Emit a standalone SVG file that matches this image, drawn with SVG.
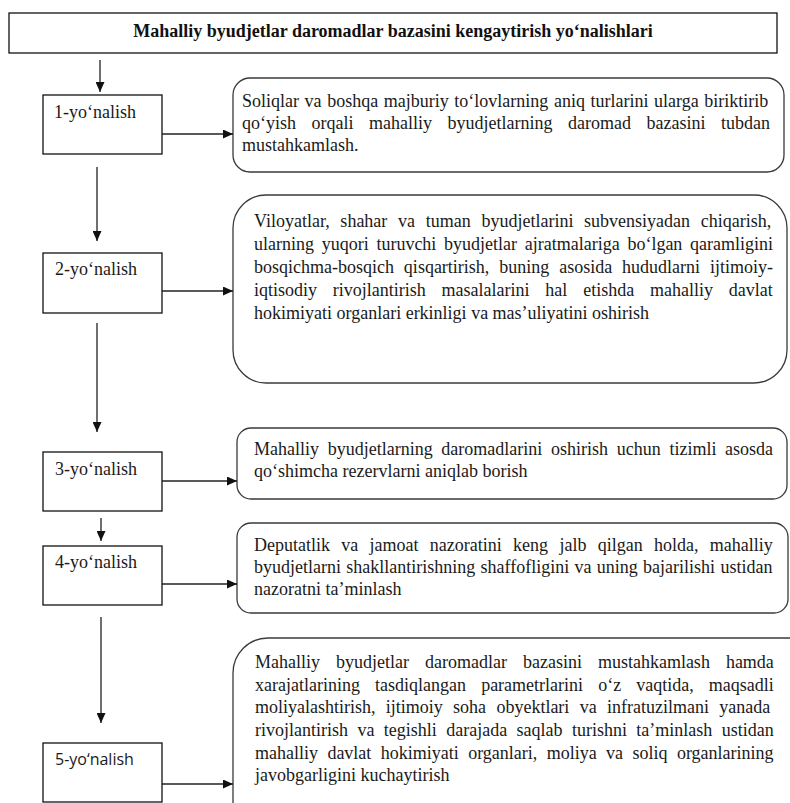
<svg xmlns="http://www.w3.org/2000/svg" width="790" height="803" viewBox="0 0 790 803">
<style>
.bx{fill:#fff;stroke:#111;stroke-width:1.3}
.rb{fill:#fff;stroke:#3a3a3a;stroke-width:1.3}
.ln{stroke:#222;stroke-width:1.3;fill:none}
</style>
<defs>
<marker id="ah" markerUnits="userSpaceOnUse" markerWidth="10" markerHeight="9" refX="10" refY="4.5" orient="auto">
<path d="M0,0 L10,4.5 L0,9 z" fill="#111"/>
</marker>
</defs>
<rect width="790" height="803" fill="#fff"/>

<g id="title">
<rect class="bx" x="9" y="13" width="768" height="40"/>
<text font-family="Liberation Serif" font-size="18" font-weight="bold" fill="#111" x="393" y="37" text-anchor="middle">Mahalliy byudjetlar daromadlar bazasini kengaytirish yo‘nalishlari</text>
</g>

<g font-family="Liberation Serif" font-size="18" fill="#1a1a1a">
<g id="n1">
<rect class="bx" x="43" y="95" width="119" height="59"/>
<text x="54" y="118">1-yo‘nalish</text>
</g>
<g id="d1">
<rect class="rb" x="233" y="78" width="551" height="94" rx="17"/>
<text x="242" y="107" word-spacing="1.1">Soliqlar va boshqa majburiy to‘lovlarning aniq turlarini ularga biriktirib</text>
<text x="242" y="129" word-spacing="11">qo‘yish orqali mahalliy byudjetlarning daromad bazasini tubdan</text>
<text x="242" y="151">mustahkamlash.</text>
</g>

<g id="n2">
<rect class="bx" x="43" y="253" width="119" height="60"/>
<text x="55" y="275">2-yo‘nalish</text>
</g>
<g id="d2">
<rect class="rb" x="233" y="195" width="554" height="188" rx="33"/>
<text x="254" y="227" word-spacing="6.2">Viloyatlar, shahar va tuman byudjetlarini subvensiyadan chiqarish,</text>
<text x="254" y="250" word-spacing="3.2">ularning yuqori turuvchi byudjetlar ajratmalariga bo‘lgan qaramligini</text>
<text x="254" y="273" word-spacing="5.4">bosqichma-bosqich qisqartirish, buning asosida hududlarni ijtimoiy-</text>
<text x="254" y="296" word-spacing="11.3">iqtisodiy rivojlantirish masalalarini hal etishda mahalliy davlat</text>
<text x="254" y="319">hokimiyati organlari erkinligi va mas’uliyatini oshirish</text>
</g>

<g id="n3">
<rect class="bx" x="43" y="452" width="119" height="59"/>
<text x="55" y="475">3-yo‘nalish</text>
</g>
<g id="d3">
<rect class="rb" x="237" y="428" width="550" height="71" rx="14"/>
<text x="254" y="455" word-spacing="4.2">Mahalliy byudjetlarning daromadlarini oshirish uchun tizimli asosda</text>
<text x="254" y="477">qo‘shimcha rezervlarni aniqlab borish</text>
</g>

<g id="n4">
<rect class="bx" x="43" y="546" width="119" height="59"/>
<text x="55" y="568">4-yo‘nalish</text>
</g>
<g id="d4">
<rect class="rb" x="237" y="523" width="551" height="90" rx="14"/>
<text x="254" y="551" word-spacing="6.8">Deputatlik va jamoat nazoratini keng jalb qilgan holda, mahalliy</text>
<text x="254" y="573" word-spacing="0.8">byudjetlarni shakllantirishning shaffofligini va uning bajarilishi ustidan</text>
<text x="254" y="595">nazoratni ta’minlash</text>
</g>

<g id="n5">
<rect class="bx" x="43" y="743" width="119" height="59"/>
<text font-family="Open Sans" font-size="16" x="55" y="765">5-yo‘nalish</text>
</g>
<g id="d5">
<rect class="rb" x="233" y="638" width="600" height="250" rx="35"/>
<text x="255" y="668" word-spacing="11.5">Mahalliy byudjetlar daromadlar bazasini mustahkamlash hamda</text>
<text x="255" y="691" word-spacing="10.6">xarajatlarining tasdiqlangan parametrlarini o‘z vaqtida, maqsadli</text>
<text x="255" y="713" word-spacing="5.8">moliyalashtirish, ijtimoiy soha obyektlari va infratuzilmani yanada</text>
<text x="255" y="736" word-spacing="4.9">rivojlantirish va tegishli darajada saqlab turishni ta’minlash ustidan</text>
<text x="255" y="759" word-spacing="4.9">mahalliy davlat hokimiyati organlari, moliya va soliq organlarining</text>
<text x="255" y="781">javobgarligini kuchaytirish</text>
</g>
</g>

<g id="connectors">
<line class="ln" x1="100" y1="60" x2="100" y2="92" marker-end="url(#ah)"/>
<line class="ln" x1="97" y1="167" x2="97" y2="241" marker-end="url(#ah)"/>
<line class="ln" x1="97" y1="323" x2="97" y2="432" marker-end="url(#ah)"/>
<line class="ln" x1="101" y1="518" x2="101" y2="541" marker-end="url(#ah)"/>
<line class="ln" x1="101" y1="617" x2="101" y2="723" marker-end="url(#ah)"/>
<line class="ln" x1="162" y1="134" x2="233" y2="134" marker-end="url(#ah)"/>
<line class="ln" x1="162" y1="291" x2="233" y2="291" marker-end="url(#ah)"/>
<line class="ln" x1="162" y1="481" x2="237" y2="481" marker-end="url(#ah)"/>
<line class="ln" x1="162" y1="584" x2="237" y2="584" marker-end="url(#ah)"/>
<line class="ln" x1="162" y1="784" x2="233" y2="784" marker-end="url(#ah)"/>
</g>
</svg>
